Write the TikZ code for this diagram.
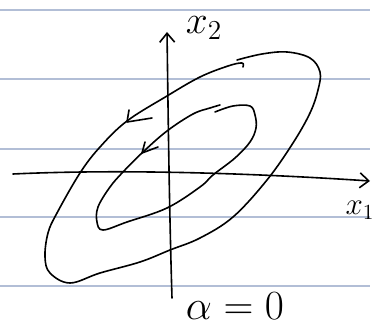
\documentclass[tikz,border=0pt]{standalone}
\usepackage{tikz}
\usetikzlibrary{arrows.meta,positioning,calc}

\definecolor{ruleblue}{RGB}{178,190,214}

\newcommand{\handtext}[2]{\scalebox{#1}{\huge #2}}

\begin{document}
\begin{tikzpicture}[
    x=1pt, y=-1pt,
    rule/.style={ruleblue, line width=1.1pt},
    pen/.style={black, line width=1.6pt, line cap=round, line join=round},
    axis/.style={pen, -{Straight Barb[length=9pt, width=15pt, line width=1.6pt]}},
    hand/.style={inner sep=0pt}
]
\useasboundingbox (0,0) rectangle (391,328);

% ruled paper
\foreach \yy in {10,79,149,217,286}
    \draw[rule] (0,\yy) -- (370,\yy);

% axes
\coordinate (x1tail) at (13,174);
\coordinate (x1tip) at (370,181);
\coordinate (x2tail) at (172,298);
\coordinate (x2tip) at (167,32);
\draw[axis] (x1tail) .. controls (120,169) and (250,173) .. (x1tip);
\draw[axis] (x2tail) .. controls (169,200) and (168,100) .. (x2tip);

\node[hand] (x2lab) at (204,28) {\handtext{1.9}{$x_2$}};
\node[hand] (x1lab) at (360,210) {\handtext{1.5}{$x_1$}};
\node[hand] (alab) at (235,306) {\handtext{2.0}{$\alpha = 0$}};

% outer contour
\draw[pen] plot[smooth, tension=0.6] coordinates {
    (237,60) (262,54) (287,52) (310,58) (320,72) (318,90) (310,113)
    (293,143) (267,180) (233,217) (200,238) (170,250) (140,262)
    (100,273) (70,283) (50,273) (45,257) (48,233) (57,213) (80,173)
    (100,147) (127,121) (167,96) (200,77) (228,66) (242,63) (243,67)};
% outer arrow
\draw[pen] (129,110) -- (127,122) -- (152,118);

% inner contour
\draw[pen] plot[smooth, tension=0.6] coordinates {
    (215,112) (233,106) (250,106) (255,115) (256,128) (250,142)
    (235,158) (213,175) (200,187) (167,208) (127,222) (103,230)
    (97,222) (98,207) (110,187) (123,172) (143,152) (167,131)
    (193,114) (210,108) (220,105)};
% inner arrow
\draw[pen] (145,142) -- (142,153) -- (158,147);
\end{tikzpicture}
\end{document}
